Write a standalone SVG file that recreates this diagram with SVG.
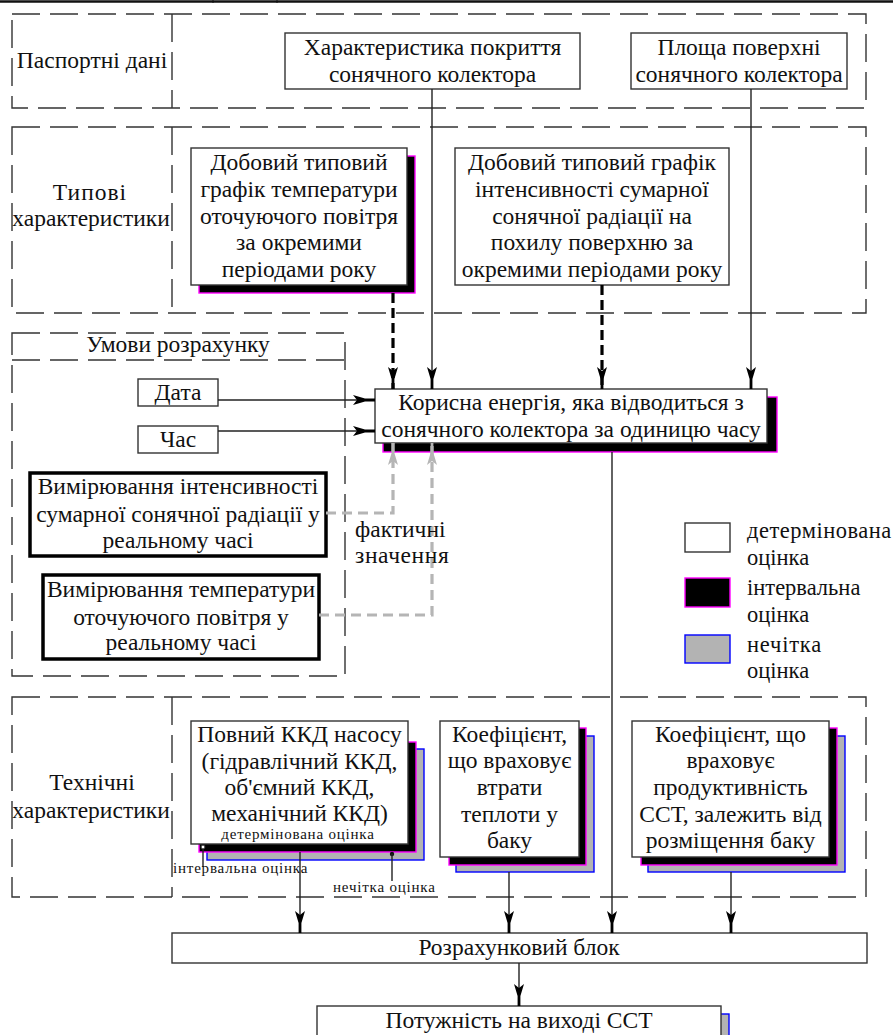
<svg xmlns="http://www.w3.org/2000/svg" width="893" height="1035" viewBox="0 0 893 1035">
<style>
text{font-family:"Liberation Serif","Times New Roman",serif;font-size:23.5px;fill:#111}
.c{text-anchor:middle}
.sm{font-size:15px;letter-spacing:0.8px}
.lg{font-size:22.5px}
.box{fill:#fff;stroke:#333;stroke-width:1.4}
.thick{fill:#fff;stroke:#000;stroke-width:3.5}
.shb{fill:#000;stroke:#f0f;stroke-width:1.4}
.shg{fill:#b3b3b3;stroke:#00f;stroke-width:1.4}
.sec{fill:none;stroke:#333;stroke-width:1.4;stroke-dasharray:28 10}
.ln{fill:none;stroke:#222;stroke-width:1.4}
.dl{fill:none;stroke:#000;stroke-width:3.2;stroke-dasharray:10 5}
.gl{fill:none;stroke:#b5b5b5;stroke-width:3.2;stroke-dasharray:10 6}
</style>
<defs>
<marker id="ab" viewBox="0 0 22 10" refX="22" refY="5" markerWidth="22" markerHeight="10" markerUnits="userSpaceOnUse" orient="auto">
<path d="M0,0 L12,3.6 L22,3.6 L22,6.4 L12,6.4 L0,10 L4,5 Z" fill="#000"/>
</marker>
<marker id="ag" viewBox="0 0 22 10" refX="22" refY="5" markerWidth="22" markerHeight="10" markerUnits="userSpaceOnUse" orient="auto">
<path d="M0,0 L12,3.6 L22,3.6 L22,6.4 L12,6.4 L0,10 L4,5 Z" fill="#b5b5b5"/>
</marker>
</defs>
<rect width="893" height="1035" fill="#fff"/>
<g id="page-top">
<line x1="0" y1="1.5" x2="893" y2="1.5" stroke="#111" stroke-width="2.5"/>
<line x1="213" y1="0" x2="213" y2="3" stroke="#111" stroke-width="1"/>
<line x1="277" y1="0" x2="277" y2="3" stroke="#111" stroke-width="1"/>
</g>
<g id="sections">
<rect class="sec" x="12" y="14" width="854" height="94"/>
<line class="sec" x1="172" y1="14" x2="172" y2="108"/>
<text class="c" x="92" y="68">Паспортні дані</text>
<rect class="sec" x="12" y="127" width="854" height="186"/>
<line class="sec" x1="172" y1="127" x2="172" y2="313"/>
<text class="c" x="90" y="200" letter-spacing="1">Типові</text>
<text class="c" x="91" y="226">характеристики</text>
<rect class="sec" x="12" y="333" width="333" height="343"/>
<line class="sec" x1="12" y1="360" x2="345" y2="360"/>
<text class="c" x="178" y="352">Умови розрахунку</text>
<rect class="sec" x="12" y="697" width="854" height="200"/>
<line class="sec" x1="172" y1="697" x2="172" y2="897"/>
<text class="c" x="92" y="790">Технічні</text>
<text class="c" x="91" y="818">характеристики</text>
</g>
<g id="n-pokryttia">
<rect class="box" x="285" y="33" width="295" height="56"/>
<text class="c" x="432.5" y="55">Характеристика покриття</text>
<text class="c" x="432.5" y="82">сонячного колектора</text>
</g>
<g id="n-ploshcha">
<rect class="box" x="631" y="33" width="216" height="56"/>
<text class="c" x="739" y="55">Площа поверхні</text>
<text class="c" x="739" y="82">сонячного колектора</text>
</g>
<g id="n-temp-graph">
<rect class="shb" x="199" y="156" width="216" height="137"/>
<rect class="box" x="191" y="148" width="216" height="137"/>
<text class="c" x="299" y="170">Добовий типовий</text>
<text class="c" x="299" y="197">графік температури</text>
<text class="c" x="299" y="224">оточуючого повітря</text>
<text class="c" x="299" y="250">за окремими</text>
<text class="c" x="299" y="277">періодами року</text>
</g>
<g id="n-rad-graph">
<rect class="box" x="455" y="148" width="274" height="137"/>
<text class="c" x="592" y="170">Добовий типовий графік</text>
<text class="c" x="592" y="197">інтенсивності сумарної</text>
<text class="c" x="592" y="224">сонячної радіації на</text>
<text class="c" x="592" y="250">похилу поверхню за</text>
<text class="c" x="592" y="277">окремими періодами року</text>
</g>
<g id="n-data">
<rect class="box" x="138" y="379" width="80" height="27"/>
<text class="c" x="178" y="400">Дата</text>
</g>
<g id="n-chas">
<rect class="box" x="138" y="426" width="80" height="27"/>
<text class="c" x="178" y="447">Час</text>
</g>
<g id="n-meas-rad">
<rect class="thick" x="30" y="473" width="296" height="83"/>
<text class="c" x="178" y="494">Вимірювання інтенсивності</text>
<text class="c" x="178" y="522">сумарної сонячної радіації у</text>
<text class="c" x="178" y="548">реальному часі</text>
</g>
<g id="n-meas-temp">
<rect class="thick" x="43" y="575" width="276" height="84"/>
<text class="c" x="181" y="597">Вимірювання температури</text>
<text class="c" x="181" y="625">оточуючого повітря у</text>
<text class="c" x="181" y="650">реальному часі</text>
</g>
<g id="n-korysna">
<rect class="shb" x="383" y="397" width="394" height="55"/>
<rect class="box" x="375" y="389" width="392" height="54"/>
<text class="c" x="571" y="410">Корисна енергія, яка відводиться з</text>
<text class="c" x="571" y="437">сонячного колектора за одиницю часу</text>
</g>
<g id="legend">
<rect class="box" x="685" y="523" width="45" height="29"/>
<rect class="shb" x="685" y="578" width="45" height="29"/>
<rect class="shg" x="685" y="635" width="45" height="28"/>
<text class="lg" x="747" y="538" letter-spacing="0.5">детермінована</text>
<text class="lg" x="747" y="565">оцінка</text>
<text class="lg" x="747" y="595">інтервальна</text>
<text class="lg" x="747" y="622">оцінка</text>
<text class="lg" x="747" y="652" letter-spacing="0.8">нечітка</text>
<text class="lg" x="747" y="678">оцінка</text>
</g>
<g id="n-kkd">
<rect class="shg" x="207" y="749" width="217" height="111"/>
<rect class="shb" x="199" y="742" width="217" height="110"/>
<rect class="box" x="191" y="721" width="217" height="123"/>
<text class="c" x="299.5" y="742">Повний ККД насосу</text>
<text class="c" x="299.5" y="769">(гідравлічний ККД,</text>
<text class="c" x="299.5" y="795">об'ємний ККД,</text>
<text class="c" x="299.5" y="821">механічний ККД)</text>
<text class="c sm" x="298" y="839">детермінована оцінка</text>
<circle cx="203" cy="847" r="2" fill="#fff" stroke="#222" stroke-width="1"/>
<line class="ln" x1="203" y1="849" x2="203" y2="867"/>
<text class="sm" x="173" y="873">інтервальна оцінка</text>
<circle cx="392" cy="854" r="2.2" fill="#111"/>
<line class="ln" x1="392" y1="854" x2="392" y2="881"/>
<text class="sm" x="333" y="892">нечітка оцінка</text>
</g>
<g id="n-vtraty">
<rect class="shg" x="456" y="736" width="138" height="136"/>
<rect class="shb" x="449" y="728" width="137" height="137"/>
<rect class="box" x="440" y="721" width="139" height="136"/>
<text class="c" x="509.5" y="742">Коефіцієнт,</text>
<text class="c" x="509.5" y="768">що враховує</text>
<text class="c" x="509.5" y="795">втрати</text>
<text class="c" x="509.5" y="822">теплоти у</text>
<text class="c" x="509.5" y="848">баку</text>
</g>
<g id="n-produkt">
<rect class="shg" x="648" y="736" width="197" height="136"/>
<rect class="shb" x="641" y="728" width="196" height="137"/>
<rect class="box" x="632" y="721" width="197" height="136"/>
<text class="c" x="730.5" y="742">Коефіцієнт, що</text>
<text class="c" x="730.5" y="768">враховує</text>
<text class="c" x="730.5" y="795">продуктивність</text>
<text class="c" x="730.5" y="822">ССТ, залежить від</text>
<text class="c" x="730.5" y="848">розміщення баку</text>
</g>
<g id="n-rozrah">
<rect class="box" x="172" y="933" width="695" height="30"/>
<text class="c" x="519" y="955">Розрахунковий блок</text>
</g>
<g id="n-potuzh">
<rect class="shg" x="325" y="1014" width="404" height="30"/>
<rect class="box" x="317" y="1006" width="404" height="30"/>
<text class="c" x="519" y="1028">Потужність на виході ССТ</text>
</g>
<g id="connectors">
<line class="ln" x1="432" y1="89" x2="432" y2="389" marker-end="url(#ab)"/>
<line class="ln" x1="751" y1="89" x2="751" y2="389" marker-end="url(#ab)"/>
<line class="dl" x1="393" y1="293" x2="393" y2="389" marker-end="url(#ab)"/>
<line class="dl" x1="602" y1="285" x2="602" y2="389" marker-end="url(#ab)"/>
<line class="ln" x1="218" y1="400" x2="375" y2="400" marker-end="url(#ab)"/>
<line class="ln" x1="218" y1="431" x2="375" y2="431" marker-end="url(#ab)"/>
<polyline class="gl" points="326,513 393,513 393,443" marker-end="url(#ag)"/>
<polyline class="gl" points="319,615 432,615 432,443" marker-end="url(#ag)"/>
<line class="ln" x1="612" y1="452" x2="612" y2="933" marker-end="url(#ab)"/>
<line class="ln" x1="300" y1="852" x2="300" y2="933" marker-end="url(#ab)"/>
<line class="ln" x1="509" y1="872" x2="509" y2="933" marker-end="url(#ab)"/>
<line class="ln" x1="731" y1="872" x2="731" y2="933" marker-end="url(#ab)"/>
<line class="ln" x1="519" y1="963" x2="519" y2="1006" marker-end="url(#ab)"/>
<text x="355" y="537">фактичні</text>
<text x="355" y="563" letter-spacing="0.6">значення</text>
</g>
</svg>
